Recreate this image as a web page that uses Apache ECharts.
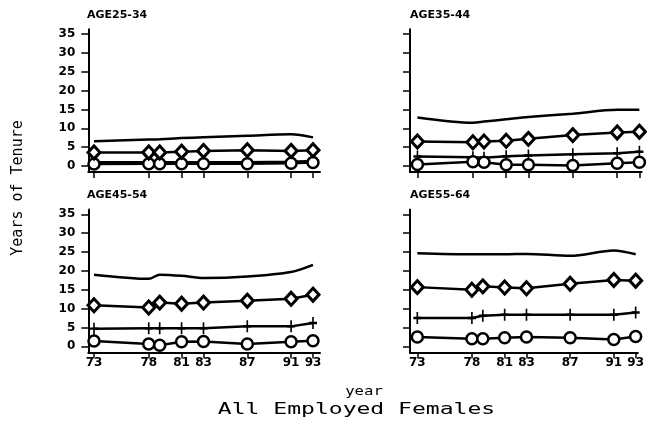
<!DOCTYPE html>
<html>
<head>
<meta charset="utf-8">
<script src="https://cdn.jsdelivr.net/npm/echarts@6/dist/echarts.min.js"></script>
<style>html,body{margin:0;padding:0;background:#fff}#c{width:647px;height:423px}</style>
</head>
<body>
<div id="c"></div>
<script>
const years = [73, 78, 79, 81, 83, 87, 91, 93];
const xTickLabels = [73, 78, 81, 83, 87, 91, 93];
const yTickLabels = [0, 5, 10, 15, 20, 25, 30, 35];
const panelNames = ['AGE25-34', 'AGE35-44', 'AGE45-54', 'AGE55-64'];

const age2534Top     = [6.6, 7.0, 7.1, 7.4, 7.6, 8.0, 8.4, 7.6];
const age2534Diamond = [3.6, 3.6, 3.6, 3.8, 4.0, 4.2, 4.0, 4.2];
const age2534Plus    = [1.0, 1.0, 1.0, 1.0, 1.0, 1.0, 1.1, 1.3];
const age2534Circle  = [0.5, 0.6, 0.6, 0.6, 0.6, 0.6, 0.7, 0.9];

const age3544Top     = [12.9, 11.5, 11.8, 12.4, 13.0, 13.9, 14.9, 14.9];
const age3544Diamond = [6.5, 6.3, 6.5, 6.7, 7.2, 8.2, 8.9, 9.1];
const age3544Plus    = [2.5, 2.3, 2.2, 2.6, 2.8, 3.1, 3.4, 3.8];
const age3544Circle  = [0.4, 1.1, 1.0, 0.3, 0.3, 0.1, 0.7, 1.0];

const age4554Top     = [19.0, 17.9, 19.0, 18.7, 18.1, 18.5, 19.7, 21.6];
const age4554Diamond = [10.9, 10.3, 11.6, 11.3, 11.6, 12.1, 12.6, 13.7];
const age4554Plus    = [4.7, 4.8, 4.8, 4.8, 4.8, 5.3, 5.3, 6.2];
const age4554Circle  = [1.4, 0.6, 0.3, 1.2, 1.3, 0.6, 1.2, 1.5];

const age5564Top     = [24.7, 24.4, 24.4, 24.4, 24.5, 24.0, 25.4, 24.4];
const age5564Diamond = [15.7, 15.0, 15.9, 15.6, 15.4, 16.6, 17.6, 17.4];
const age5564Plus    = [7.5, 7.5, 8.1, 8.4, 8.4, 8.4, 8.4, 9.0];
const age5564Circle  = [2.5, 2.0, 2.0, 2.3, 2.5, 2.3, 1.8, 2.6];

const panels = [
  {top: age2534Top, diamond: age2534Diamond, plus: age2534Plus, circle: age2534Circle},
  {top: age3544Top, diamond: age3544Diamond, plus: age3544Plus, circle: age3544Circle},
  {top: age4554Top, diamond: age4554Diamond, plus: age4554Plus, circle: age4554Circle},
  {top: age5564Top, diamond: age5564Diamond, plus: age5564Plus, circle: age5564Circle}
];

const grids = [
  {left: 88.3, top: 29.3, width: 231.7, height: 142.7},
  {left: 410, top: 29.3, width: 231.6, height: 142.7},
  {left: 88.3, top: 209.4, width: 231.7, height: 143},
  {left: 410, top: 209.4, width: 231.6, height: 143}
];
const xRanges = [[72.48, 93.64], [72.33, 93.2], [72.48, 93.64], [72.33, 93.2]];
const titlePos = [[87, 15.5], [410, 15.5], [87, 195.5], [410, 195.5]];

const tickFont = {color: '#000', fontFamily: 'DejaVu Sans', fontWeight: 'bold', fontSize: 12};

const xAxes = [], yAxes = [], series = [];
panels.forEach((p, i) => {
  const showX = i >= 2, showY = i % 2 === 0;
  xAxes.push({
    type: 'value', gridIndex: i, min: xRanges[i][0], max: xRanges[i][1],
    axisLine: {onZero: false, lineStyle: {color: '#000', width: 2}},
    axisTick: {customValues: xTickLabels, length: 6, lineStyle: {color: '#000', width: 1.5}},
    axisLabel: {show: showX, customValues: xTickLabels, margin: 4, ...tickFont},
    splitLine: {show: false}
  });
  yAxes.push({
    type: 'value', gridIndex: i, min: -1.6, max: 36.3,
    axisLine: {show: true, onZero: false, lineStyle: {color: '#000', width: 2}},
    axisTick: {show: true, customValues: yTickLabels, length: 7, lineStyle: {color: '#000', width: 1.5}},
    axisLabel: {show: showY, customValues: yTickLabels, margin: 13, ...tickFont},
    splitLine: {show: false}
  });
  const pts = arr => years.map((y, k) => [y, arr[k]]);
  const base = {type: 'line', xAxisIndex: i, yAxisIndex: i, lineStyle: {color: '#000', width: 2.5}, silent: true};
  series.push({...base, name: panelNames[i] + ' top', data: pts(p.top), symbol: 'none', smooth: 0.3});
  series.push({...base, name: panelNames[i] + ' plus', data: pts(p.plus),
    symbol: 'path://M5,0L5,12M0,6L10,6', symbolSize: [8, 12],
    itemStyle: {color: 'rgba(0,0,0,0)', borderColor: '#000', borderWidth: 2}});
  series.push({...base, name: panelNames[i] + ' circle', data: pts(p.circle),
    symbol: 'circle', symbolSize: 11,
    itemStyle: {color: '#fff', borderColor: '#000', borderWidth: 2.5}});
  series.push({...base, name: panelNames[i] + ' diamond', data: pts(p.diamond),
    symbol: 'diamond', symbolSize: [12, 13],
    itemStyle: {color: '#fff', borderColor: '#000', borderWidth: 3}});
});

const graphics = panelNames.map((n, i) => ({
  type: 'text', x: titlePos[i][0], y: titlePos[i][1],
  style: {text: n, fill: '#000', font: 'bold 11px "DejaVu Sans"', textAlign: 'left', textVerticalAlign: 'middle'}
}));
graphics.push({
  type: 'text', x: 18.5, y: 188, rotation: Math.PI / 2,
  style: {text: 'Years of Tenure', fill: '#000', font: '15px "DejaVu Sans Mono"', textAlign: 'center', textVerticalAlign: 'middle'}
});
graphics.push({
  type: 'text', x: 364, y: 392, scaleX: 1.3,
  style: {text: 'year', fill: '#000', font: '12px "DejaVu Sans Mono"', textAlign: 'center', textVerticalAlign: 'middle'}
});
graphics.push({
  type: 'text', x: 356.5, y: 410, scaleX: 1.44,
  style: {text: 'All Employed Females', fill: '#000', font: '16px "DejaVu Sans Mono"', textAlign: 'center', textVerticalAlign: 'middle'}
});

const chart = echarts.init(document.getElementById('c'), null, {renderer: 'canvas'});
chart.setOption({
  animation: false,
  backgroundColor: '#fff',
  grid: grids,
  xAxis: xAxes,
  yAxis: yAxes,
  series: series,
  graphic: graphics
});
</script>
</body>
</html>
